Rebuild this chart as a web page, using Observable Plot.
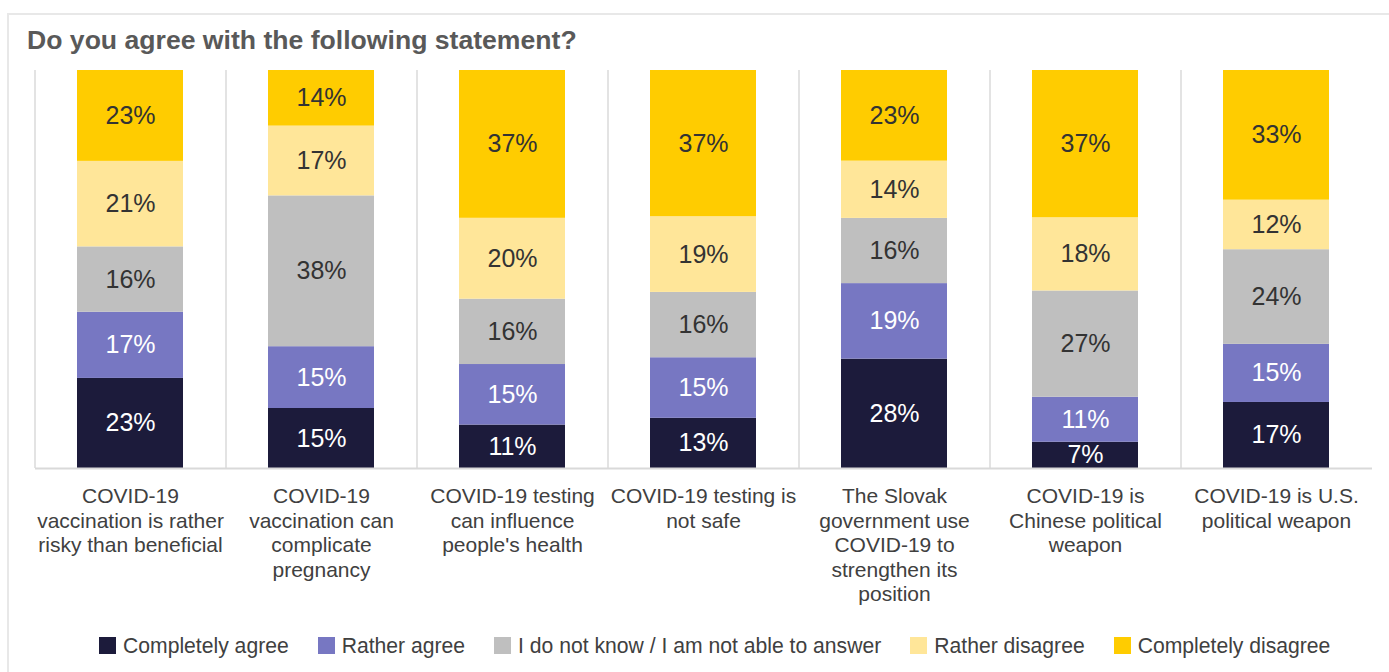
<!DOCTYPE html>
<html>
<head>
<meta charset="utf-8">
<script src="https://cdn.jsdelivr.net/npm/d3@7"></script>
<script src="https://cdn.jsdelivr.net/npm/@observablehq/plot@0.6"></script>
<style>
  html, body { margin: 0; padding: 0; background: #fff; }
  body { width: 1389px; height: 672px; position: relative; overflow: hidden; font-family: "Liberation Sans", Arial, sans-serif; }
  #frame { position: absolute; left: 7px; top: 13px; right: 0; bottom: 0; border-top: 2px solid #e8e8e8; border-left: 2px solid #e8e8e8; }
  #title { position: absolute; left: 27px; top: 27px; font-size: 26.6px; line-height: 27px; font-weight: bold; color: #595959; white-space: nowrap; }
  #chart { position: absolute; left: 0; top: 0; }
  #legend { position: absolute; left: 99px; top: 635px; display: flex; align-items: center; height: 21px; font-size: 21.15px; line-height: 21px; color: #404040; white-space: nowrap; }
  .item { display: flex; align-items: center; margin-right: 29px; }
  .sw { width: 17px; height: 17px; margin-right: 7px; }
</style>
</head>
<body>
<div id="frame"></div>
<div id="chart"></div>
<div id="title">Do you agree with the following statement?</div>
<div id="legend"></div>
<script>
const categories = [
  "COVID-19 vaccination is rather risky than beneficial",
  "COVID-19 vaccination can complicate pregnancy",
  "COVID-19 testing can influence people's health",
  "COVID-19 testing is not safe",
  "The Slovak government use COVID-19 to strengthen its position",
  "COVID-19 is Chinese political weapon",
  "COVID-19 is U.S. political weapon"
];
const tickLabels = [
  "COVID-19\nvaccination is rather\nrisky than beneficial",
  "COVID-19\nvaccination can\ncomplicate\npregnancy",
  "COVID-19 testing\ncan influence\npeople's health",
  "COVID-19 testing is\nnot safe",
  "The Slovak\ngovernment use\nCOVID-19 to\nstrengthen its\nposition",
  "COVID-19 is\nChinese political\nweapon",
  "COVID-19 is U.S.\npolitical weapon"
];
const responses = [
  "Completely agree",
  "Rather agree",
  "I do not know / I am not able to answer",
  "Rather disagree",
  "Completely disagree"
];
const colors = ["#1c1b3b", "#7777c2", "#bfbfbf", "#ffe699", "#ffcc00"];

// shares in % (labels show them rounded)
const completelyAgree    = [22.6, 15.0, 10.9, 12.6, 27.5,  6.6, 16.6];
const ratherAgree        = [16.6, 15.45, 15.2, 15.2, 19.0, 11.3, 14.6];
const dontKnow           = [16.4, 37.7, 16.4, 16.4, 16.4, 26.7, 23.8];
const ratherDisagree     = [21.45, 17.45, 20.3, 19.0, 14.4, 18.4, 12.45];
const completelyDisagree = [22.8, 13.9, 37.1, 36.7, 22.8, 37.0, 32.6];

const series = [completelyAgree, ratherAgree, dontKnow, ratherDisagree, completelyDisagree];
const rows = [];
categories.forEach((c, i) => {
  responses.forEach((r, j) => {
    rows.push({category: c, response: r, value: series[j][i], light: j < 2});
  });
});

const W = 1389, H = 672, mL = 35, mR = 17, mT = 70, mB = H - 468;
const step = (W - mL - mR) / categories.length;
const font = '"Liberation Sans", Arial, sans-serif';
const fmt = d => Math.round(d.value) + "%";

const stackOpts = {offset: "normalize", order: responses};

const chart = Plot.plot({
  width: W,
  height: H,
  marginLeft: mL,
  marginRight: mR,
  marginTop: mT,
  marginBottom: mB,
  style: {fontFamily: font, fontSize: "21px", color: "#404040", background: "transparent"},
  x: {domain: categories, paddingInner: 0.445, paddingOuter: 0.2225, label: null},
  y: {axis: null, domain: [0, 1]},
  color: {domain: responses, range: colors},
  marks: [
    Plot.ruleX(categories, {x: d => d, dx: -step / 2, stroke: "#e3e3e3", strokeWidth: 2}),
    Plot.barY(rows, Plot.stackY({...stackOpts, x: "category", y: "value", fill: "response", z: "response"})),
    Plot.ruleY([0], {stroke: "#d9d9d9", strokeWidth: 2}),
    Plot.text(rows, Plot.stackY({...stackOpts, x: "category", y: "value", z: "response",
      text: d => d.light ? fmt(d) : null, fill: "#ffffff", fontSize: 25})),
    Plot.text(rows, Plot.stackY({...stackOpts, x: "category", y: "value", z: "response",
      text: d => d.light ? null : fmt(d), fill: "#333333", fontSize: 25})),
    Plot.axisX({tickSize: 0, tickPadding: 17, lineHeight: 1.17, fontSize: 21, fill: "#404040",
      tickFormat: d => tickLabels[categories.indexOf(d)], label: null})
  ]
});
document.getElementById("chart").appendChild(chart);

const legend = document.getElementById("legend");
responses.forEach((r, j) => {
  const item = document.createElement("div");
  item.className = "item";
  const sw = document.createElement("span");
  sw.className = "sw";
  sw.style.background = colors[j];
  const label = document.createElement("span");
  label.textContent = r;
  item.appendChild(sw);
  item.appendChild(label);
  legend.appendChild(item);
});
</script>
</body>
</html>
